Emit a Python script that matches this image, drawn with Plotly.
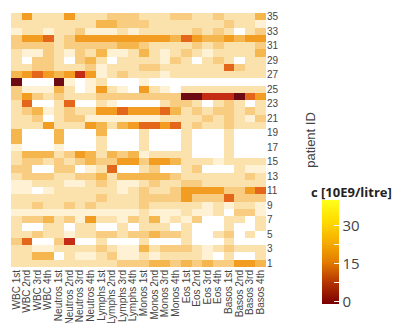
import plotly.graph_objects as go

tests = ["WBC 1st", "WBC 2nd", "WBC 3rd", "WBC 4th",
         "Neutros 1st", "Neutros 2nd", "Neutros 3rd", "Neutros 4th",
         "Lymphs 1st", "Lymphs 2nd", "Lymphs 3rd", "Lymphs 4th",
         "Monos 1st", "Monos 2nd", "Monos 3rd", "Monos 4th",
         "Eos 1st", "Eos 2nd", "Eos 3rd", "Eos 4th",
         "Basos 1st", "Basos 2nd", "Basos 3rd", "Basos 4th"]

patient_ids = list(range(35, 0, -1))

# concentration per patient (rows: patient 35 ... 1), columns follow `tests`
conc = [
    [31,17,31,31,31,17,31,31,31,27,27,27,31,31,31,27,27,31,31,27,31,31,31,22],
    [31,31,31,31,31,31,31,31,22,22,27,27,27,31,31,31,31,31,31,31,27,31,31,35],
    [35,31,31,35,31,31,27,35,35,35,31,35,31,31,31,31,31,27,31,27,31,39,31,27],
    [27,17,17,12,31,27,17,17,17,17,17,17,17,17,17,22,12,17,22,22,17,22,17,17],
    [27,27,27,27,31,27,27,27,27,27,22,22,27,31,31,31,31,27,31,27,31,31,31,27],
    [31,35,35,27,31,35,27,31,22,35,35,31,22,31,35,31,27,31,35,31,31,31,31,22],
    [31,39,27,27,31,39,27,22,31,39,31,31,31,31,35,27,31,39,31,27,31,39,31,31],
    [31,31,27,27,31,31,31,27,35,31,31,31,27,27,31,31,31,31,31,31,12,27,31,31],
    [22,17,12,17,22,17,7,17,35,31,27,31,31,31,35,31,31,31,31,31,31,31,31,31],
    [2,39,39,39,2,35,39,35,31,39,39,39,35,39,39,39,39,39,39,39,39,39,39,39],
    [27,35,35,35,22,31,39,35,17,31,35,39,17,31,35,39,31,31,31,31,31,31,31,31],
    [27,17,27,31,27,31,31,31,27,27,27,27,27,27,27,27,2,2,7,7,7,2,12,17],
    [31,12,39,39,31,12,39,39,31,35,39,39,39,39,31,27,27,31,39,31,27,31,39,31],
    [31,27,22,35,31,27,31,31,17,17,12,17,17,17,12,22,31,27,31,27,27,31,27,31],
    [31,31,27,39,31,27,27,35,35,35,35,35,35,35,31,31,31,31,27,31,27,31,35,27],
    [31,31,31,17,31,31,31,17,22,31,22,17,12,12,17,12,31,27,31,31,27,31,31,31],
    [22,39,39,39,22,39,39,39,22,39,39,39,31,39,39,39,31,39,39,39,31,39,39,39],
    [22,39,39,39,22,39,39,39,31,39,39,39,31,39,39,39,31,39,39,39,31,39,39,39],
    [35,39,39,39,35,39,39,39,31,39,39,39,31,39,39,39,31,39,39,39,31,39,39,39],
    [31,22,22,22,31,27,17,22,31,22,27,22,35,31,31,31,31,39,39,39,31,39,39,39],
    [31,27,27,31,27,31,27,22,27,27,17,17,27,17,17,22,31,31,31,35,31,31,31,31],
    [27,27,39,39,27,27,39,35,31,12,39,39,31,27,39,39,31,27,39,39,39,31,35,35],
    [31,27,27,27,31,31,27,27,22,31,22,22,22,22,22,27,31,31,31,31,31,31,27,31],
    [35,35,31,31,31,35,35,31,27,31,35,35,31,27,31,31,27,27,31,31,31,31,31,31],
    [35,35,39,35,31,31,31,31,31,31,35,31,27,31,31,27,17,17,17,17,27,27,17,12],
    [31,31,31,31,31,31,31,31,27,31,31,31,27,27,27,27,17,27,27,27,12,27,27,27],
    [31,31,27,31,31,27,31,27,31,31,31,31,27,31,31,31,31,31,35,31,35,31,31,35],
    [35,35,35,35,35,35,35,35,35,35,35,35,31,35,35,35,31,35,35,31,39,27,27,35],
    [31,27,27,22,31,27,35,17,31,31,35,27,31,22,35,31,35,27,39,39,31,31,39,31],
    [31,39,39,31,31,39,31,31,39,39,31,39,31,31,31,39,31,39,39,39,31,39,39,31],
    [31,31,27,31,31,35,31,31,27,27,31,27,27,22,27,27,31,39,39,31,27,39,31,39],
    [27,12,39,39,27,7,39,39,31,39,39,39,31,39,39,39,31,39,39,39,31,39,39,39],
    [31,31,35,35,31,31,31,31,27,31,35,35,22,31,27,27,27,31,35,31,27,31,31,31],
    [31,31,22,22,39,31,35,35,31,27,35,35,31,35,31,31,31,31,35,39,31,39,39,31],
    [31,31,31,31,31,31,31,31,31,31,27,27,27,22,22,27,22,27,22,27,27,17,17,22],
]

y_ticks = list(range(1, 36, 2))
cbar_ticks = [0, 7.5, 15, 22.5, 30]
cbar_labels = ["0", "", "15", "", "30"]

cell_scale = [
    [0.0, "#6e0a14"], [0.05, "#6e0a14"], [0.175, "#c42c16"], [0.3, "#e4661a"],
    [0.425, "#f29c22"], [0.55, "#f5b64e"], [0.675, "#f8cd82"], [0.775, "#fbe1ab"],
    [0.875, "#fff2d4"], [0.975, "#ffffff"], [1.0, "#ffffff"],
]
bar_scale = [
    [0.0, "#7a0000"], [0.2, "#b43200"], [0.4, "#e27c00"],
    [0.6, "#f6ae00"], [0.8, "#ffdc00"], [1.0, "#ffff1a"],
]

fig = go.Figure()
fig.add_trace(go.Heatmap(
    z=conc, x=tests, y=patient_ids,
    zmin=0, zmax=40, colorscale=cell_scale, showscale=False,
    hoverongaps=False,
))
fig.add_trace(go.Scatter(
    x=[None], y=[None], mode="markers", showlegend=False,
    marker=dict(
        color=[0], cmin=-1, cmax=40, colorscale=bar_scale, showscale=True,
        colorbar=dict(
            x=1.22, xanchor="left", y=0.058, yanchor="middle",
            thickness=17, thicknessmode="pixels",
            len=104, lenmode="pixels",
            xpad=0, ypad=0, outlinewidth=0,
            tickvals=cbar_ticks, ticktext=cbar_labels,
            ticks="inside", ticklen=5, tickcolor="white", tickwidth=1,
            tickfont=dict(family="Open Sans", size=15, color="#444"),
        ),
    ),
))

fig.add_annotation(
    text="<b>c [10E9/litre]</b>", xref="paper", yref="paper",
    x=(343 - 3) / 255, y=(259 - 183) / 256, xanchor="center", yanchor="middle",
    showarrow=False, font=dict(family="Open Sans", size=13, color="#222"),
)

fig.update_layout(
    width=400, height=323,
    margin=dict(l=3, r=142, t=3, b=64),
    paper_bgcolor="white", plot_bgcolor="white",
    xaxis=dict(
        type="category", tickmode="array", tickvals=tests, ticktext=tests,
        tickangle=-90, showgrid=False, zeroline=False,
        tickfont=dict(family="Liberation Sans", size=10, color="#444"),
        ticks="", fixedrange=True,
    ),
    yaxis=dict(
        side="right", tickvals=y_ticks, range=[0.5, 35.5],
        showgrid=False, zeroline=False, ticks="",
        tickfont=dict(family="Liberation Sans", size=10, color="#444"),
        title=dict(text="patient ID", standoff=28,
                   font=dict(family="Liberation Sans", size=13, color="#444")),
    ),
)

fig.write_html("out.html")
